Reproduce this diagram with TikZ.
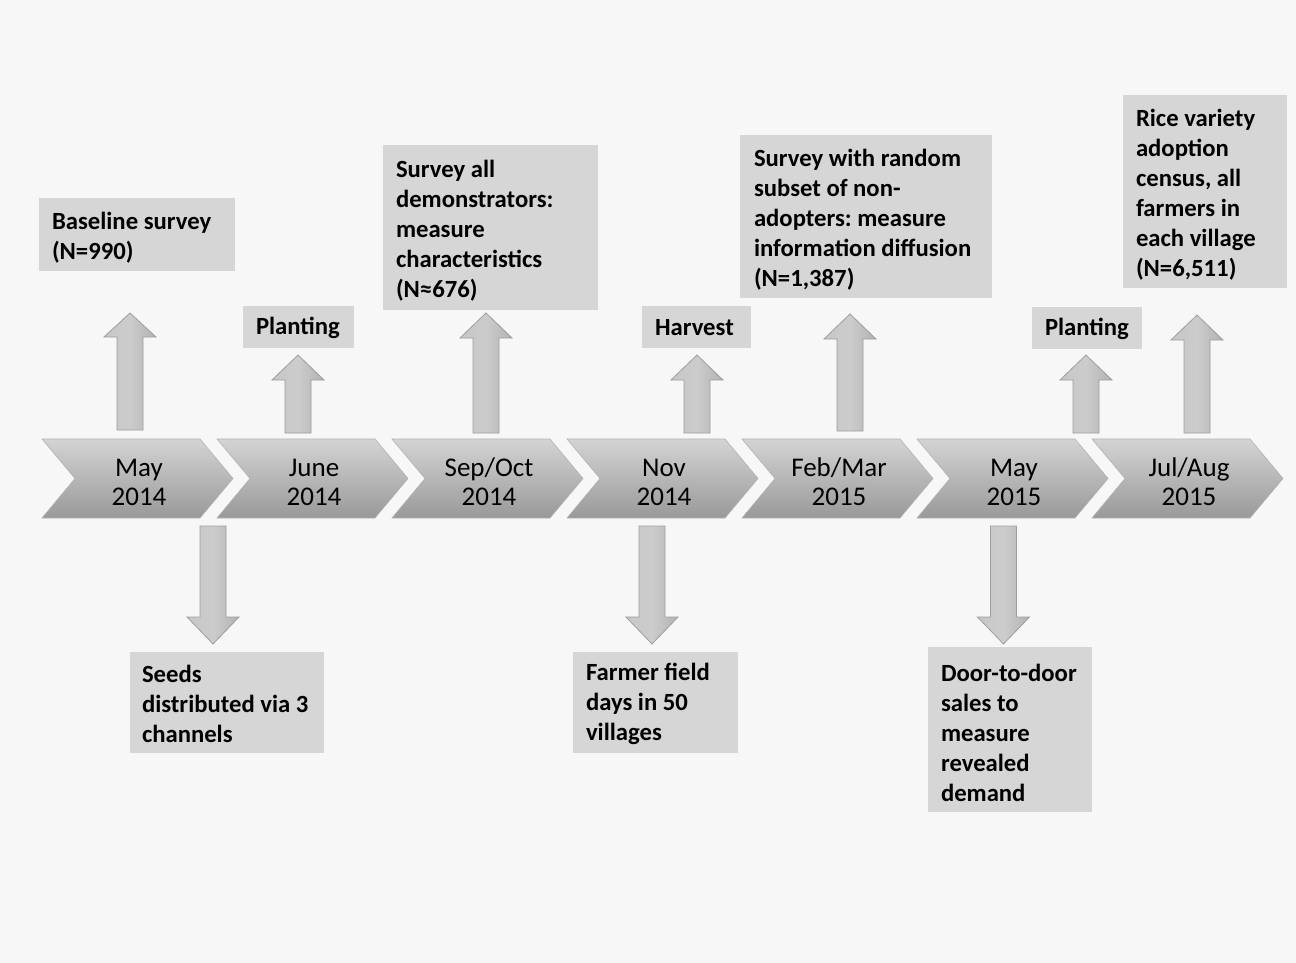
\documentclass[tikz,border=0pt]{standalone}
\usepackage{fontspec}
\setmainfont{Carlito}
\frenchspacing
\begin{document}
\begin{tikzpicture}[x=1pt,y=-1pt,
  boxbg/.style={fill=black!16, draw=none, inner sep=0pt},
  boxtext/.style={inner sep=0pt, align=left, anchor=west,
    font=\bfseries\fontsize{24.7}{30}\selectfont, text=black},
  chevtext/.style={align=center, font=\fontsize{27}{29}\selectfont, text=black},
  chev/.style={top color=black!17, bottom color=black!40, draw=black!30, line width=0.6pt},
  blockarrow/.style={left color=black!22, right color=black!30, middle color=black!20, draw=black!38, line width=0.8pt}
]
\useasboundingbox (0,0) rectangle (1296,963);
\fill[black!3] (0,0) rectangle (1296,963);

% chevrons
\foreach \i/\lab [count=\k] in {0/{May\\2014},1/{June\\2014},2/{Sep/Oct\\2014},3/{Nov\\2014},4/{Feb/Mar\\2015},5/{May\\2015},6/{Jul/Aug\\2015}}{
  \pgfmathsetmacro{\xo}{42+175*\i}
  \path[chev] (\xo,439) -- (\xo+158,439) -- (\xo+191,478.5) -- (\xo+158,518) -- (\xo,518) -- (\xo+33,478.5) -- cycle;
  \node[chevtext] (c\k) at (\xo+97,482) {\lab};
}

% block arrows: center, tip, head base, tail
\newcommand\myblockarrow[4]{%
  \path[blockarrow] (#1-13,#4) -- (#1-13,#3) -- (#1-26,#3) -- (#1,#2) -- (#1+26,#3) -- (#1+13,#3) -- (#1+13,#4) -- cycle;}

\myblockarrow{130}{313}{337}{430}
\myblockarrow{298}{355}{380}{433}
\myblockarrow{486}{313}{338}{433}
\myblockarrow{697}{355}{380}{433}
\myblockarrow{850}{314}{339}{431}
\myblockarrow{1086}{355}{380}{433}
\myblockarrow{1197}{315}{340}{433}

\myblockarrow{213}{644}{617}{526}
\myblockarrow{652}{644}{617}{526}
\myblockarrow{1003.5}{644}{617}{526}

% boxes
\node[boxbg, minimum width=196pt, minimum height=73pt] (baseline) at (137,234.5) {};
\node[boxtext] (baselinet) at ([xshift=13pt,yshift=-3pt]baseline.west) {Baseline survey\\(N=990)};

\node[boxbg, minimum width=111pt, minimum height=42pt] (plant1) at (298.5,327) {};
\node[boxtext] (plant1t) at ([xshift=13pt,yshift=-1pt]plant1.west) {Planting};

\node[boxbg, minimum width=215pt, minimum height=165pt] (sep) at (490.5,227.5) {};
\node[boxtext] (sept) at ([xshift=13pt,yshift=-3pt]sep.west) {Survey all\\demonstrators:\\measure\\characteristics\\(N≈676)};

\node[boxbg, minimum width=109pt, minimum height=42pt] (harvest) at (696.5,327) {};
\node[boxtext] (harvestt) at ([xshift=13pt,yshift=-1pt]harvest.west) {Harvest};

\node[boxbg, minimum width=252pt, minimum height=163pt] (feb) at (866,216.5) {};
\node[boxtext] (febt) at ([xshift=14pt,yshift=-3pt]feb.west) {Survey with random\\subset of non-\\adopters: measure\\information diffusion\\(N=1,387)};

\node[boxbg, minimum width=110pt, minimum height=42pt] (plant2) at (1087,328) {};
\node[boxtext] (plant2t) at ([xshift=13pt,yshift=-1pt]plant2.west) {Planting};

\node[boxbg, minimum width=164pt, minimum height=193pt] (rice) at (1205,191.5) {};
\node[boxtext] (ricet) at ([xshift=13pt,yshift=-3pt]rice.west) {Rice variety\\adoption\\census, all\\farmers in\\each village\\(N=6,511)};

\node[boxbg, minimum width=194pt, minimum height=101pt] (seeds) at (227,702.5) {};
\node[boxtext] (seedst) at ([xshift=12pt,yshift=-1pt]seeds.west) {Seeds\\distributed via 3\\channels};

\node[boxbg, minimum width=165pt, minimum height=101pt] (farmer) at (655.5,702.5) {};
\node[boxtext] (farmert) at ([xshift=13pt,yshift=-1pt]farmer.west) {Farmer field\\days in 50\\villages};

\node[boxbg, minimum width=164pt, minimum height=165pt] (door) at (1010,729.5) {};
\node[boxtext] (doort) at ([xshift=13pt,yshift=-3pt]door.west) {Door-to-door\\sales to\\measure\\revealed\\demand};
\end{tikzpicture}
\end{document}
